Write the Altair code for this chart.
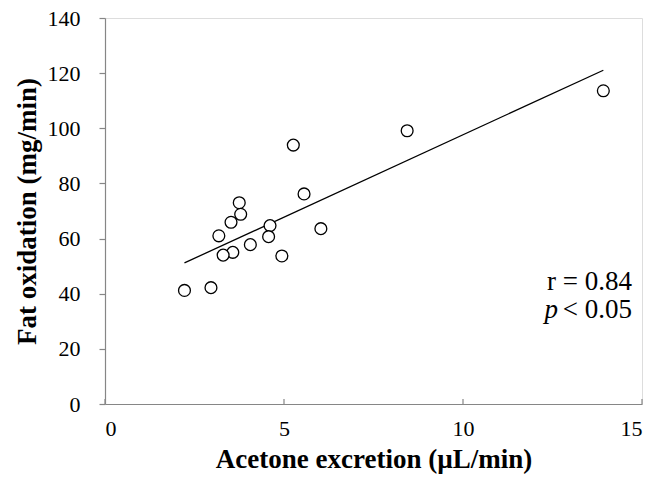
import altair as alt
import pandas as pd

acetone = [5.26, 5.56, 3.75, 3.79, 3.52, 3.18, 4.61, 4.57, 4.06, 6.03, 3.57, 3.30, 4.94, 2.22, 2.96, 8.44, 13.92]
fat_ox = [93.9, 76.2, 73.0, 68.8, 65.9, 61.0, 64.7, 60.7, 57.8, 63.6, 55.0, 54.0, 53.7, 41.2, 42.2, 99.1, 113.6]
x_ticks = [0, 5, 10, 15]
y_ticks = [0, 20, 40, 60, 80, 100, 120, 140]

df = pd.DataFrame({"acetone": acetone, "fat": fat_ox})
tick_df = pd.DataFrame({"t": x_ticks})

W, H = 537, 386
FONT = "Liberation Serif"
AXIS_GRAY = "#868686"

xscale = alt.Scale(domain=[0, 15], nice=False, zero=True)
yscale = alt.Scale(domain=[0, 140], nice=False)

x_axis = alt.Axis(values=x_ticks, tickSize=0, labelFont=FONT, labelFontSize=22,
                  labelColor="black", labelPadding=14, domainColor=AXIS_GRAY,
                  domainWidth=1.2, grid=False, title="Acetone excretion (µL/min)",
                  titleFont=FONT, titleFontSize=27, titleFontWeight="bold",
                  titleColor="black", titlePadding=7)
y_axis = alt.Axis(values=y_ticks, tickSize=6, tickColor=AXIS_GRAY, tickWidth=1.2,
                  labelFont=FONT, labelFontSize=22, labelColor="black",
                  labelPadding=19, domainColor=AXIS_GRAY, domainWidth=1.2,
                  grid=False, title="Fat oxidation (mg/min)", titleFont=FONT,
                  titleFontSize=27, titleFontWeight="bold", titleColor="black",
                  titlePadding=6)

base = alt.Chart(df)

points = base.mark_point(shape="circle", filled=False, fill="white", fillOpacity=1,
                         stroke="black", strokeWidth=1.3, size=140, opacity=1).encode(
    x=alt.X("acetone:Q", scale=xscale, axis=x_axis),
    y=alt.Y("fat:Q", scale=yscale, axis=y_axis),
)

reg = base.transform_regression("acetone", "fat").mark_line(
    color="black", strokeWidth=1.3).encode(
    x=alt.X("acetone:Q", scale=xscale),
    y=alt.Y("fat:Q", scale=yscale),
)

xt = alt.Chart(tick_df).mark_rule(color=AXIS_GRAY, strokeWidth=1.2).encode(
    x=alt.X("t:Q", scale=xscale),
    y=alt.value(H),
    y2=alt.value(H - 5),
)

r_text = alt.Chart(pd.DataFrame({"s": ["r = 0.84"]})).mark_text(
    font=FONT, fontSize=27, align="right", baseline="alphabetic", color="black"
).encode(text="s:N", x=alt.value(527), y=alt.value(272))

p_text = alt.Chart(pd.DataFrame({"s": ["p"]})).mark_text(
    font=FONT, fontSize=27, fontStyle="italic", align="right",
    baseline="alphabetic", color="black"
).encode(text="s:N", x=alt.value(453), y=alt.value(300))

lt_text = alt.Chart(pd.DataFrame({"s": ["< 0.05"]})).mark_text(
    font=FONT, fontSize=27, align="right", baseline="alphabetic", color="black"
).encode(text="s:N", x=alt.value(527), y=alt.value(300))

chart = alt.layer(reg, xt, points, r_text, p_text, lt_text).properties(
    width=W, height=H,
    autosize=alt.AutoSizeParams(type="none"),
    padding={"left": 105, "top": 18, "right": 9, "bottom": 77},
).configure_view(stroke=None).configure(background="white")

chart.save("out.html", embed_options={"renderer": "svg", "actions": False})
